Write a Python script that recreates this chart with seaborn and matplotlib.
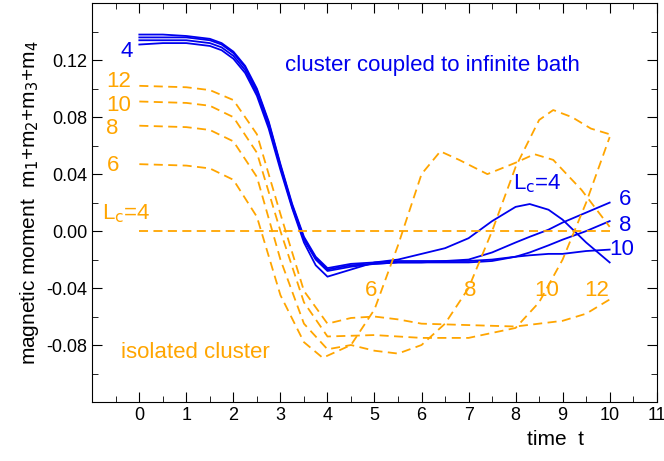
import matplotlib
matplotlib.use("Agg")
import matplotlib.pyplot as plt
import seaborn as sns
from matplotlib.ticker import MultipleLocator

plt.rcParams["font.family"] = "Liberation Sans"

# coupled cluster (blue)
tb = [0, 0.5, 1, 1.5, 1.75, 2, 2.25, 2.5, 2.75, 3, 3.25, 3.5, 3.75, 4, 4.5, 5, 5.5, 6, 6.5, 7, 7.5, 8, 8.3, 8.7, 9, 9.5, 10]
b4 = [0.131, 0.132, 0.132, 0.130, 0.127, 0.121, 0.111, 0.095, 0.072, 0.043, 0.016, -0.008, -0.024, -0.032, -0.027, -0.022, -0.020, -0.016, -0.012, -0.005, 0.007, 0.017, 0.019, 0.015, 0.008, -0.008, -0.022]
b6 = [0.134, 0.134, 0.134, 0.132, 0.129, 0.123, 0.113, 0.097, 0.074, 0.045, 0.017, -0.006, -0.020, -0.028, -0.025, -0.023, -0.022, -0.022, -0.021, -0.020, -0.015, -0.008, -0.004, 0.001, 0.006, 0.013, 0.020]
b8 = [0.136, 0.136, 0.136, 0.134, 0.131, 0.125, 0.115, 0.099, 0.076, 0.046, 0.018, -0.005, -0.019, -0.027, -0.024, -0.023, -0.022, -0.022, -0.022, -0.022, -0.021, -0.018, -0.015, -0.010, -0.006, 0.000, 0.007]
b10 = [0.138, 0.138, 0.137, 0.135, 0.132, 0.126, 0.116, 0.100, 0.077, 0.047, 0.019, -0.004, -0.018, -0.026, -0.023, -0.022, -0.021, -0.021, -0.021, -0.021, -0.020, -0.018, -0.017, -0.016, -0.016, -0.014, -0.013]

# isolated cluster (orange)
t0 = [0, 10]
o4 = [0.0, 0.0]
t6 = [0, 1, 1.5, 2, 2.5, 3, 3.5, 3.9, 4.5, 5, 5.5, 6, 6.4, 6.8, 7.4, 8, 8.4, 8.8, 9.4, 10]
o6 = [0.047, 0.046, 0.044, 0.036, 0.010, -0.045, -0.078, -0.089, -0.080, -0.055, -0.010, 0.040, 0.056, 0.050, 0.040, 0.048, 0.054, 0.050, 0.029, 0.003]
t8 = [0, 1, 1.5, 2, 2.5, 3, 3.5, 4, 4.5, 5, 5.5, 6, 6.5, 7, 7.5, 8, 8.5, 8.8, 9.2, 9.6, 10]
o8 = [0.074, 0.073, 0.071, 0.063, 0.038, -0.020, -0.065, -0.083, -0.080, -0.084, -0.086, -0.080, -0.065, -0.040, 0.000, 0.045, 0.078, 0.085, 0.080, 0.072, 0.068]
t10 = [0, 1, 1.5, 2, 2.5, 3, 3.5, 4, 5, 6, 7, 8, 8.5, 9, 9.5, 10]
o10 = [0.091, 0.090, 0.088, 0.080, 0.055, 0.000, -0.050, -0.074, -0.073, -0.075, -0.075, -0.068, -0.050, -0.020, 0.020, 0.066]
t12 = [0, 1, 1.5, 2, 2.5, 3, 3.5, 4, 4.5, 5, 5.5, 6, 7, 8, 9, 9.5, 10]
o12 = [0.102, 0.101, 0.099, 0.092, 0.068, 0.012, -0.042, -0.065, -0.061, -0.060, -0.062, -0.065, -0.066, -0.067, -0.063, -0.058, -0.048]

BLUE = "#0000ee"
ORANGE = "#ffa500"

fig, ax = plt.subplots(figsize=(6.64, 4.61), dpi=100)
fig.subplots_adjust(left=0.139, right=0.989, top=0.993, bottom=0.128)

for y in [b4, b6, b8, b10]:
    sns.lineplot(x=tb, y=y, ax=ax, color=BLUE, lw=1.3)
for t, y in [(t0, o4), (t6, o6), (t8, o8), (t10, o10), (t12, o12)]:
    sns.lineplot(x=t, y=y, ax=ax, color=ORANGE, lw=1.3)
    ax.lines[-1].set_dashes([5, 3])

ax.set_xlim(-1, 11)
ax.set_ylim(-0.12, 0.16)
ax.set_xticks(range(0, 12))
ax.set_xticks([-0.5 + i for i in range(12)], minor=True)
ax.set_yticks([-0.08, -0.04, 0.0, 0.04, 0.08, 0.12])
ax.set_yticklabels(["-0.08", "-0.04", "0.00", "0.04", "0.08", "0.12"])
ax.set_yticks([-0.12, -0.10, -0.06, -0.02, 0.02, 0.06, 0.10, 0.14, 0.16], minor=True)
ax.tick_params(direction="in", which="both", top=True, right=True, labelsize=13)
ax.tick_params(which="major", length=7)
ax.tick_params(which="minor", length=4)

ax.set_ylabel("magnetic moment  m$_1$+m$_2$+m$_3$+m$_4$", fontsize=15)
ax.set_xlabel("time  t", fontsize=15)
ax.xaxis.set_label_coords(0.82, -0.07)

fs = 16
ax.text(-0.4, 0.126, "4", color=BLUE, fontsize=fs, va="center")
ax.text(3.1, 0.116, "cluster coupled to infinite bath", color=BLUE, fontsize=fs, va="center")
ax.text(7.95, 0.033, "L$_\\mathrm{c}$=4", color=BLUE, fontsize=fs, va="center")
ax.text(10.2, 0.022, "6", color=BLUE, fontsize=fs, va="center")
ax.text(10.2, 0.004, "8", color=BLUE, fontsize=fs, va="center")
ax.text(10.0, -0.013, "10", color=BLUE, fontsize=fs, va="center")

ax.text(-0.7, 0.105, "12", color=ORANGE, fontsize=fs, va="center")
ax.text(-0.7, 0.088, "10", color=ORANGE, fontsize=fs, va="center")
ax.text(-0.7, 0.072, "8", color=ORANGE, fontsize=fs, va="center")
ax.text(-0.7, 0.046, "6", color=ORANGE, fontsize=fs, va="center")
ax.text(-0.8, 0.012, "L$_\\mathrm{c}$=4", color=ORANGE, fontsize=fs, va="center")
ax.text(4.8, -0.042, "6", color=ORANGE, fontsize=fs, va="center")
ax.text(6.9, -0.042, "8", color=ORANGE, fontsize=fs, va="center")
ax.text(8.4, -0.042, "10", color=ORANGE, fontsize=fs, va="center")
ax.text(9.45, -0.042, "12", color=ORANGE, fontsize=fs, va="center")
ax.text(-0.4, -0.085, "isolated cluster", color=ORANGE, fontsize=fs, va="center")

fig.savefig("out.png", dpi=100)
